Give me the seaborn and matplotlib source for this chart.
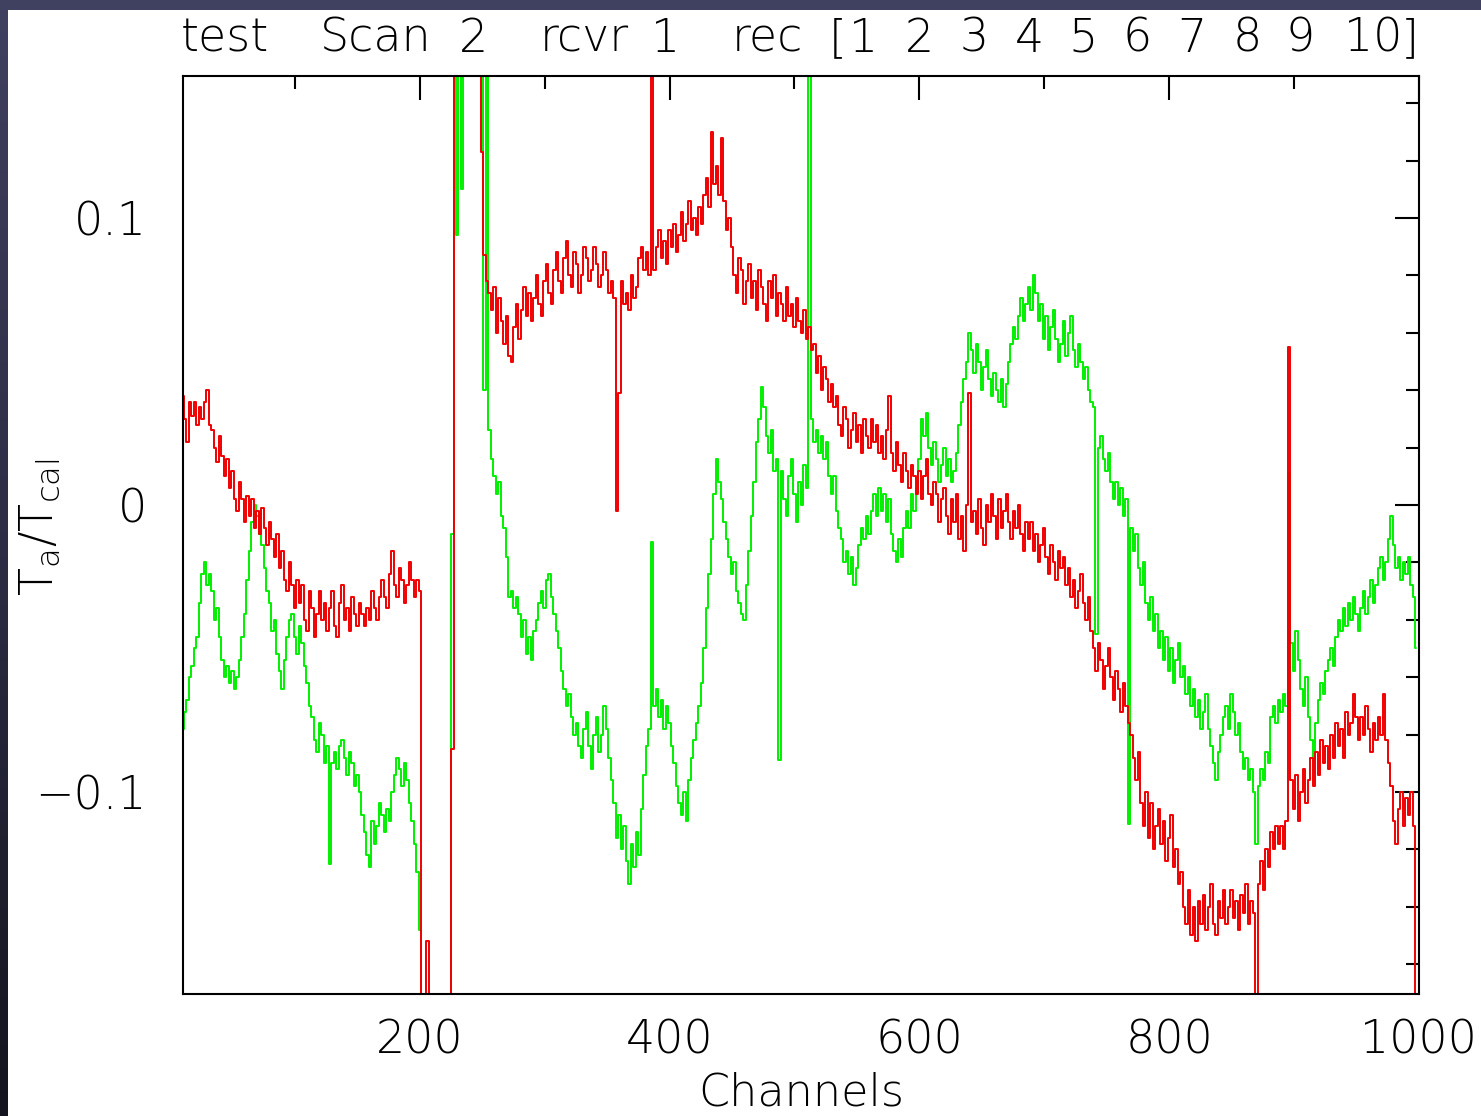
import numpy as np
import pandas as pd
import matplotlib
matplotlib.use("Agg")
import matplotlib.pyplot as plt
from matplotlib.colors import LinearSegmentedColormap
from matplotlib.patches import Rectangle
from matplotlib.ticker import MultipleLocator, FuncFormatter
import seaborn as sns

# Spectrometer channels (every 2nd channel) and the two polarisation traces, Ta/Tcal
channels = np.arange(10, 1000, 2)

pol1_ta = [
    # 10-48
    0.038, 0.030, 0.022, 0.036, 0.031, 0.036, 0.028, 0.034, 0.030, 0.036,
    0.040, 0.028, 0.026, 0.020, 0.015, 0.024, 0.017, 0.010, 0.016, 0.006,
    # 50-88
    0.012, 0.002, -0.002, 0.008, 0.002, -0.006, 0.003, -0.004, 0.002, -0.008,
    -0.002, -0.010, -0.001, -0.008, -0.014, -0.006, -0.012, -0.018, -0.010, -0.022,
    # 90-128
    -0.016, -0.026, -0.030, -0.020, -0.028, -0.036, -0.026, -0.034, -0.028, -0.040,
    -0.044, -0.030, -0.036, -0.046, -0.038, -0.030, -0.040, -0.034, -0.044, -0.036,
    # 130-168
    -0.030, -0.042, -0.046, -0.034, -0.028, -0.040, -0.036, -0.044, -0.032, -0.038,
    -0.042, -0.034, -0.038, -0.042, -0.036, -0.040, -0.030, -0.036, -0.040, -0.032,
    # 170-208
    -0.026, -0.032, -0.036, -0.024, -0.016, -0.028, -0.032, -0.022, -0.026, -0.034,
    -0.028, -0.020, -0.026, -0.032, -0.026, -0.030, -0.250, -0.250, -0.152, -0.250,
    # 210-248
    -0.250, -0.250, -0.250, -0.250, -0.250, -0.250, -0.250, -0.250, -0.085, 0.250,
    0.250, 0.250, 0.250, 0.250, 0.250, 0.250, 0.250, 0.250, 0.250, 0.250,
    # 250-288
    0.123, 0.087, 0.078, 0.074, 0.068, 0.076, 0.060, 0.072, 0.064, 0.056,
    0.066, 0.052, 0.050, 0.062, 0.070, 0.058, 0.068, 0.076, 0.066, 0.074,
    # 290-328
    0.064, 0.072, 0.080, 0.070, 0.066, 0.078, 0.084, 0.074, 0.070, 0.082,
    0.088, 0.078, 0.074, 0.086, 0.092, 0.080, 0.076, 0.088, 0.084, 0.074,
    # 330-368
    0.080, 0.090, 0.086, 0.078, 0.082, 0.090, 0.084, 0.076, 0.080, 0.088,
    0.082, 0.074, 0.078, 0.072, -0.002, 0.039, 0.078, 0.070, 0.074, 0.068,
    # 370-408
    0.080, 0.072, 0.076, 0.086, 0.090, 0.082, 0.088, 0.080, 0.250, 0.082,
    0.090, 0.096, 0.086, 0.092, 0.084, 0.096, 0.090, 0.098, 0.088, 0.094,
    # 410-448
    0.102, 0.092, 0.098, 0.106, 0.096, 0.100, 0.094, 0.104, 0.098, 0.108,
    0.114, 0.104, 0.130, 0.112, 0.118, 0.108, 0.128, 0.106, 0.096, 0.100,
    # 450-488
    0.090, 0.080, 0.074, 0.086, 0.082, 0.070, 0.078, 0.084, 0.072, 0.078,
    0.068, 0.082, 0.076, 0.070, 0.064, 0.078, 0.072, 0.080, 0.066, 0.074,
    # 490-528
    0.070, 0.064, 0.076, 0.066, 0.070, 0.062, 0.072, 0.064, 0.060, 0.068,
    0.058, 0.062, 0.054, 0.056, 0.046, 0.052, 0.040, 0.048, 0.044, 0.036,
    # 530-568
    0.042, 0.034, 0.038, 0.028, 0.024, 0.034, 0.030, 0.020, 0.026, 0.032,
    0.022, 0.028, 0.018, 0.030, 0.024, 0.020, 0.030, 0.022, 0.028, 0.018,
    # 570-608
    0.024, 0.016, 0.026, 0.038, 0.018, 0.012, 0.022, 0.014, 0.008, 0.018,
    0.012, 0.006, 0.014, 0.010, 0.004, 0.012, 0.002, 0.010, 0.016, 0.004,
    # 610-648
    0.000, 0.008, 0.004, -0.006, 0.002, 0.006, -0.004, -0.010, 0.002, -0.006,
    0.004, -0.012, -0.004, -0.016, 0.000, 0.039, -0.006, -0.002, -0.010, 0.002,
    # 650-688
    -0.008, -0.014, 0.000, -0.006, 0.004, -0.004, -0.012, 0.002, -0.008, -0.002,
    0.004, -0.006, -0.012, -0.002, -0.008, 0.000, -0.010, -0.016, -0.006, -0.012,
    # 690-728
    -0.006, -0.016, -0.010, -0.020, -0.014, -0.008, -0.018, -0.024, -0.014, -0.020,
    -0.026, -0.016, -0.022, -0.018, -0.028, -0.022, -0.032, -0.026, -0.036, -0.030,
    # 730-768
    -0.024, -0.034, -0.040, -0.032, -0.044, -0.050, -0.058, -0.048, -0.054, -0.064,
    -0.056, -0.050, -0.060, -0.068, -0.058, -0.064, -0.072, -0.062, -0.070, -0.076,
    # 770-808
    -0.080, -0.088, -0.096, -0.086, -0.104, -0.112, -0.100, -0.116, -0.104, -0.120,
    -0.112, -0.106, -0.118, -0.110, -0.124, -0.116, -0.108, -0.126, -0.120, -0.132,
    # 810-848
    -0.128, -0.140, -0.146, -0.134, -0.150, -0.140, -0.152, -0.138, -0.146, -0.136,
    -0.148, -0.140, -0.132, -0.146, -0.150, -0.138, -0.144, -0.134, -0.146, -0.140,
    # 850-888
    -0.134, -0.144, -0.138, -0.148, -0.136, -0.142, -0.132, -0.146, -0.138, -0.142,
    -0.250, -0.132, -0.124, -0.134, -0.120, -0.126, -0.114, -0.120, -0.112, -0.118,
    # 890-928
    -0.112, -0.120, -0.110, 0.055, -0.096, -0.106, -0.094, -0.110, -0.100, -0.092,
    -0.104, -0.096, -0.088, -0.098, -0.086, -0.094, -0.082, -0.090, -0.084, -0.092,
    # 930-968
    -0.080, -0.088, -0.076, -0.084, -0.078, -0.088, -0.072, -0.080, -0.076, -0.066,
    -0.074, -0.082, -0.074, -0.080, -0.070, -0.078, -0.086, -0.076, -0.082, -0.074,
    # 970-998
    -0.080, -0.066, -0.082, -0.090, -0.098, -0.110, -0.118, -0.106, -0.100, -0.112,
    -0.102, -0.108, -0.100, -0.112, -0.250,
]

pol2_ta = [
    # 10-48
    -0.078, -0.072, -0.068, -0.060, -0.056, -0.050, -0.046, -0.034, -0.024, -0.020,
    -0.028, -0.024, -0.030, -0.040, -0.036, -0.046, -0.054, -0.060, -0.056, -0.062,
    # 50-88
    -0.058, -0.064, -0.060, -0.054, -0.046, -0.038, -0.026, -0.016, -0.006, 0.000,
    -0.004, -0.010, -0.014, -0.022, -0.030, -0.034, -0.044, -0.040, -0.052, -0.058,
    # 90-128
    -0.064, -0.054, -0.046, -0.040, -0.038, -0.046, -0.052, -0.042, -0.048, -0.056,
    -0.062, -0.070, -0.074, -0.082, -0.086, -0.076, -0.080, -0.090, -0.084, -0.125,
    # 130-168
    -0.090, -0.086, -0.092, -0.084, -0.082, -0.088, -0.094, -0.086, -0.090, -0.098,
    -0.094, -0.100, -0.108, -0.114, -0.122, -0.126, -0.110, -0.118, -0.112, -0.104,
    # 170-208
    -0.108, -0.114, -0.106, -0.110, -0.100, -0.094, -0.088, -0.092, -0.098, -0.090,
    -0.096, -0.104, -0.110, -0.118, -0.128, -0.148, -0.250, -0.250, -0.250, -0.250,
    # 210-248
    -0.250, -0.250, -0.250, -0.250, -0.250, -0.250, -0.250, -0.250, -0.010, 0.250,
    0.094, 0.250, 0.110, 0.250, 0.250, 0.250, 0.250, 0.250, 0.250, 0.250,
    # 250-288
    0.250, 0.040, 0.250, 0.026, 0.016, 0.010, 0.004, 0.008, -0.004, -0.008,
    -0.018, -0.032, -0.030, -0.036, -0.032, -0.038, -0.046, -0.040, -0.052, -0.046,
    # 290-328
    -0.054, -0.044, -0.040, -0.034, -0.030, -0.036, -0.026, -0.024, -0.032, -0.038,
    -0.044, -0.050, -0.058, -0.064, -0.070, -0.066, -0.074, -0.080, -0.076, -0.084,
    # 330-368
    -0.088, -0.078, -0.072, -0.084, -0.092, -0.080, -0.074, -0.086, -0.080, -0.070,
    -0.078, -0.088, -0.096, -0.104, -0.116, -0.108, -0.120, -0.112, -0.124, -0.132,
    # 370-408
    -0.118, -0.126, -0.114, -0.122, -0.106, -0.094, -0.084, -0.078, -0.013, -0.070,
    -0.064, -0.074, -0.068, -0.078, -0.070, -0.076, -0.084, -0.090, -0.098, -0.104,
    # 410-448
    -0.108, -0.100, -0.110, -0.096, -0.088, -0.082, -0.076, -0.070, -0.062, -0.050,
    -0.036, -0.024, -0.012, 0.004, 0.016, 0.008, 0.002, -0.006, -0.012, -0.018,
    # 450-488
    -0.024, -0.020, -0.030, -0.034, -0.038, -0.040, -0.028, -0.016, -0.004, 0.008,
    0.022, 0.030, 0.041, 0.034, 0.024, 0.018, 0.026, 0.012, 0.016, -0.089,
    # 490-528
    0.012, 0.002, -0.004, 0.010, 0.016, 0.004, -0.006, 0.008, 0.000, 0.014,
    0.006, 0.250, 0.030, 0.022, 0.026, 0.018, 0.024, 0.016, 0.022, 0.010,
    # 530-568
    0.004, 0.010, -0.002, -0.008, -0.012, -0.020, -0.016, -0.024, -0.018, -0.028,
    -0.022, -0.014, -0.008, -0.012, -0.004, -0.010, -0.002, 0.004, -0.004, 0.006,
    # 570-608
    -0.002, 0.004, -0.006, 0.002, -0.010, -0.016, -0.020, -0.012, -0.018, -0.008,
    -0.002, -0.008, 0.004, -0.002, 0.006, 0.016, 0.030, 0.024, 0.032, 0.020,
    # 610-648
    0.014, 0.022, 0.016, 0.008, 0.014, 0.020, 0.010, 0.016, 0.008, 0.012,
    0.018, 0.028, 0.036, 0.044, 0.050, 0.060, 0.054, 0.046, 0.056, 0.050,
    # 650-688
    0.040, 0.048, 0.054, 0.044, 0.038, 0.046, 0.040, 0.036, 0.044, 0.034,
    0.042, 0.050, 0.056, 0.062, 0.058, 0.066, 0.072, 0.064, 0.070, 0.076,
    # 690-728
    0.068, 0.080, 0.074, 0.064, 0.070, 0.058, 0.066, 0.054, 0.062, 0.068,
    0.058, 0.050, 0.056, 0.064, 0.052, 0.060, 0.066, 0.054, 0.048, 0.056,
    # 730-768
    0.050, 0.044, 0.048, 0.040, 0.036, 0.034, -0.045, 0.020, 0.024, 0.016,
    0.012, 0.018, 0.008, 0.002, 0.008, 0.000, 0.006, -0.004, 0.002, -0.111,
    # 770-808
    -0.008, -0.016, -0.010, -0.022, -0.028, -0.020, -0.034, -0.040, -0.032, -0.044,
    -0.038, -0.050, -0.044, -0.054, -0.046, -0.058, -0.050, -0.062, -0.054, -0.048,
    # 810-848
    -0.060, -0.056, -0.066, -0.060, -0.070, -0.064, -0.074, -0.068, -0.078, -0.072,
    -0.066, -0.078, -0.084, -0.090, -0.096, -0.086, -0.080, -0.074, -0.070, -0.078,
    # 850-888
    -0.066, -0.072, -0.080, -0.076, -0.086, -0.092, -0.088, -0.096, -0.092, -0.100,
    -0.118, -0.098, -0.092, -0.096, -0.086, -0.090, -0.074, -0.070, -0.076, -0.068,
    # 890-928
    -0.072, -0.066, -0.070, 0.011, -0.048, -0.058, -0.044, -0.054, -0.064, -0.070,
    -0.060, -0.074, -0.082, -0.088, -0.076, -0.068, -0.062, -0.066, -0.058, -0.054,
    # 930-968
    -0.050, -0.056, -0.046, -0.040, -0.044, -0.036, -0.042, -0.034, -0.040, -0.032,
    -0.038, -0.044, -0.036, -0.030, -0.038, -0.032, -0.026, -0.034, -0.028, -0.022,
    # 970-998
    -0.018, -0.026, -0.020, -0.012, -0.004, -0.014, -0.022, -0.018, -0.026, -0.020,
    -0.024, -0.018, -0.028, -0.032, -0.050,
]

title_tokens = ["test", "Scan", "2", "rcvr", "1", "rec", "[",
                "1", "2", "3", "4", "5", "6", "7", "8", "9", "10", "]"]

sns.set_theme(style="white")
plt.rcParams["font.family"] = ["DejaVu Sans"]
plt.rcParams["font.weight"] = "light"
plt.rcParams["text.color"] = "black"
plt.rcParams["xtick.color"] = "black"
plt.rcParams["ytick.color"] = "black"

W, H = 1481, 1116
fig = plt.figure(figsize=(W / 100, H / 100), dpi=100)
fig.patch.set_facecolor("white")

# dark window frame along the top and left edges
frame_ax = fig.add_axes([0, 0, 8 / W, 1])
frame_cmap = LinearSegmentedColormap.from_list("frame", ["#14141e", "#2c2c44", "#404060"])
frame_ax.imshow(np.linspace(1, 0, 256)[:, None], aspect="auto", cmap=frame_cmap)
frame_ax.axis("off")
fig.add_artist(Rectangle((0, 1 - 10 / H), 1, 10 / H, transform=fig.transFigure,
                         facecolor="#404060", edgecolor="none", zorder=5))

ax = fig.add_axes([183 / W, 1 - 994 / H, (1419 - 183) / W, (994 - 76) / H])

df = pd.concat([
    pd.DataFrame({"channel": channels, "ta": pol1_ta, "pol": "pol1"}),
    pd.DataFrame({"channel": channels, "ta": pol2_ta, "pol": "pol2"}),
])
sns.lineplot(data=df, x="channel", y="ta", hue="pol", hue_order=["pol2", "pol1"],
             palette={"pol1": "#f00000", "pol2": "#00f000"}, estimator=None,
             drawstyle="steps-mid", linewidth=1.4, legend=False, ax=ax)

ax.set_xlim(10.4, 1000.1)
ax.set_ylim(-0.1704, 0.1495)
ax.set_xlabel("")
ax.set_ylabel("")
ax.grid(False)

ax.xaxis.set_major_locator(MultipleLocator(200))
ax.xaxis.set_minor_locator(MultipleLocator(100))
ax.yaxis.set_major_locator(MultipleLocator(0.1))
ax.yaxis.set_minor_locator(MultipleLocator(0.02))
ax.yaxis.set_major_formatter(FuncFormatter(
    lambda v, p: "0" if abs(v) < 1e-9 else f"{v:.1f}".replace("-", "\u2212")))

ax.tick_params(which="both", direction="in", top=True, right=True,
               width=1.5, color="black")
ax.tick_params(which="major", length=17)
ax.tick_params(which="minor", length=9.5)
ax.tick_params(axis="x", which="major", labelsize=33, pad=18)
ax.tick_params(axis="y", which="major", labelsize=33, pad=26)
for s in ax.spines.values():
    s.set_color("black")
    s.set_linewidth(1.5)

# title line, spaced like the plotting package's header
title_x = [225, 376, 473, 584, 666, 767, 838,
           864, 919, 974, 1029, 1083, 1137, 1192, 1247, 1300, 1373, 1410]
for tok, xc in zip(title_tokens, title_x):
    fig.text(xc / W, 1 - 52 / H, tok, ha="center", va="baseline", fontsize=33)

fig.text(40 / W, 1 - 527 / H, r"$\mathregular{T_a/T_{cal}}$", rotation=90,
         ha="center", va="center", fontsize=33)
fig.text(801 / W, 1 / H, "Channels", ha="center", va="bottom", fontsize=32)

fig.savefig("out.png", dpi=100, facecolor="white")
